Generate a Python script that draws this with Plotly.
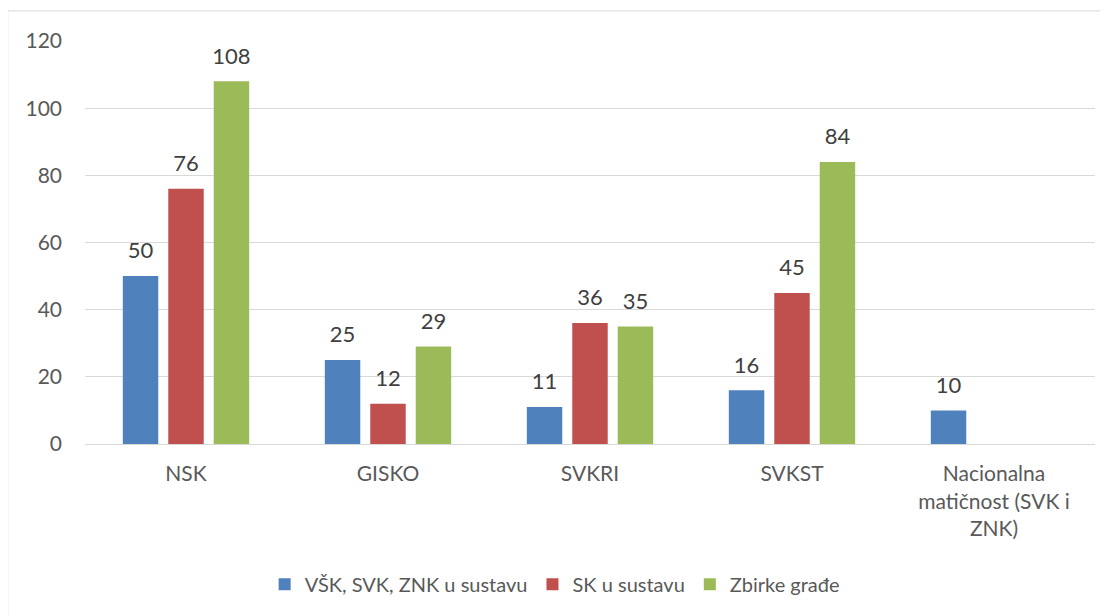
import plotly.graph_objects as go

categories = ["NSK", "GISKO", "SVKRI", "SVKST", "Nacionalna<br>matičnost (SVK i<br>ZNK)"]
series_names = ["VŠK, SVK, ZNK u sustavu", "SK u sustavu", "Zbirke građe"]
vsk = [50, 25, 11, 16, 10]
sk = [76, 12, 36, 45, None]
zbirke = [108, 29, 35, 84, None]
colors = ["#4F81BD", "#C0504D", "#9BBB59"]
y_ticks = [0, 20, 40, 60, 80, 100, 120]

font_family = "Lato, Carlito, Calibri, sans-serif"

fig = go.Figure()
for i, (name, vals, col) in enumerate(zip(series_names, [vsk, sk, zbirke], colors)):
    fig.add_trace(go.Bar(
        x=categories, y=vals, name=name, offsetgroup=str(i),
        marker=dict(color=col, line=dict(width=0)),
    ))
for i, (name, vals) in enumerate(zip(series_names, [vsk, sk, zbirke])):
    fig.add_trace(go.Scatter(
        x=categories, y=vals, mode="markers+text", offsetgroup=str(i),
        marker=dict(size=18, opacity=0),
        text=[str(v) if v is not None else "" for v in vals],
        textposition="top center",
        textfont=dict(family=font_family, size=22, color="#404040"),
        showlegend=False, hoverinfo="skip", cliponaxis=False,
    ))

fig.update_layout(
    width=1100, height=608,
    margin=dict(l=77, r=13, t=33, b=166),
    paper_bgcolor="white", plot_bgcolor="white",
    barmode="group", bargap=0.325, bargroupgap=0.22,
    scattermode="group", scattergap=0.325,
    font=dict(family=font_family, size=21, color="#595959"),
    showlegend=True,
    legend=dict(orientation="h", x=0.465, xanchor="center", y=-0.348, yanchor="middle",
                font=dict(size=20, color="#595959"), traceorder="normal"),
)
fig.update_xaxes(showgrid=False, showline=True, linecolor="#D9D9D9", linewidth=1,
                 ticks="", tickfont=dict(size=21, color="#595959"), ticklabelstandoff=11)
fig.update_yaxes(range=[0, 120], tickvals=y_ticks, showgrid=True, gridcolor="#D9D9D9",
                 gridwidth=1, zeroline=False, showline=False, ticks="",
                 tickfont=dict(size=21, color="#595959"), ticklabelstandoff=22)
fig.add_shape(type="rect", xref="paper", yref="paper",
              x0=-0.0765, x1=1.05, y0=-0.5, y1=1.0748,
              line=dict(color="#D9D9D9", width=1), fillcolor="rgba(0,0,0,0)", layer="below")
fig.write_html("out.html")
